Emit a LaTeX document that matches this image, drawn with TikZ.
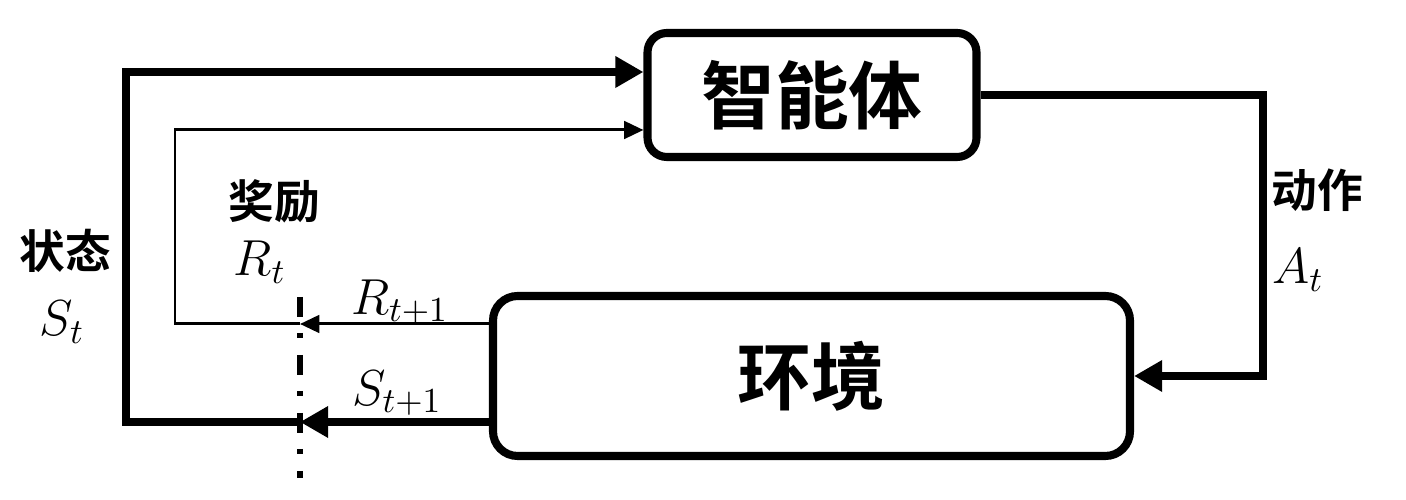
\documentclass[tikz,border=0pt]{standalone}
\usepackage{fontspec}
\newfontfamily\cjk{Noto Sans CJK SC}[BoldFont={Noto Sans CJK SC Bold}]
\usetikzlibrary{positioning}
\usetikzlibrary{arrows.meta}

\begin{document}
\begin{tikzpicture}[
        box/.style={draw, line width=2.3pt, inner sep=0pt, font=\cjk\bfseries\fontsize{21}{24}\selectfont},
        heavy/.style={line width=2.3pt},
        light/.style={line width=0.85pt},
        bigtip/.style={-{Triangle[length=8pt, width=8.5pt]}},
        smalltip/.style={-{Triangle[length=5.5pt, width=5pt]}},
        lbl/.style={font=\cjk\bfseries\fontsize{13}{15}\selectfont},
        sym/.style={font=\fontsize{14}{16}\selectfont}
    ]

        % Frame
        \useasboundingbox (0,0) rectangle (14.06,5);

        % Agent and environment
        \node[box, rounded corners=5.5pt, minimum width=3.29cm, minimum height=1.24cm] (agent) at (8.12,4.05) {智能体};
        \node[box, rounded corners=7pt, minimum width=6.37cm, minimum height=1.60cm] (env) at (8.115,1.24) {环境};

        % Time step cut
        \coordinate (cutTop) at (3.00,2.03);
        \coordinate (cutBot) at (3.00,0.22);
        \draw[line width=1.7pt, dash pattern=on 0.2cm off 0.16cm on 0.05cm off 0.17cm] (cutTop) -- (cutBot);

        % Action
        \coordinate (actR) at (12.63,4.05);
        \draw[heavy, bigtip] (agent.east) -- (actR) |- (env.east);

        % State
        \coordinate (cutS) at (3.00,0.78);
        \coordinate (stL) at (1.26,0.78);
        \draw[heavy, bigtip] (env.west |- cutS) -- (cutS);
        \draw[heavy, bigtip] (cutS) -- (stL) |- ([yshift=0.23cm]agent.west);

        % Reward
        \coordinate (cutR) at (3.00,1.76);
        \coordinate (rwL) at (1.75,1.76);
        \draw[light, smalltip] (env.west |- cutR) -- (cutR);
        \draw[light, smalltip] (cutR) -- (rwL) |- ([yshift=-0.35cm]agent.west);

        % Labels
        \node[lbl] (stTxt) at (0.65,2.49) {状态};
        \node[sym] (stSym) at (0.62,1.78) {$S_t$};
        \node[lbl] (rwTxt) at (2.74,2.99) {奖励};
        \node[sym] (rwSym) at (2.60,2.38) {$R_t$};
        \node[sym] (rwNext) at (4.00,1.98) {$R_{t+1}$};
        \node[sym] (stNext) at (3.97,1.07) {$S_{t+1}$};
        \node[lbl] (actTxt) at (13.17,3.10) {动作};
        \node[sym] (actSym) at (12.98,2.30) {$A_t$};

    \end{tikzpicture}
\end{document}
